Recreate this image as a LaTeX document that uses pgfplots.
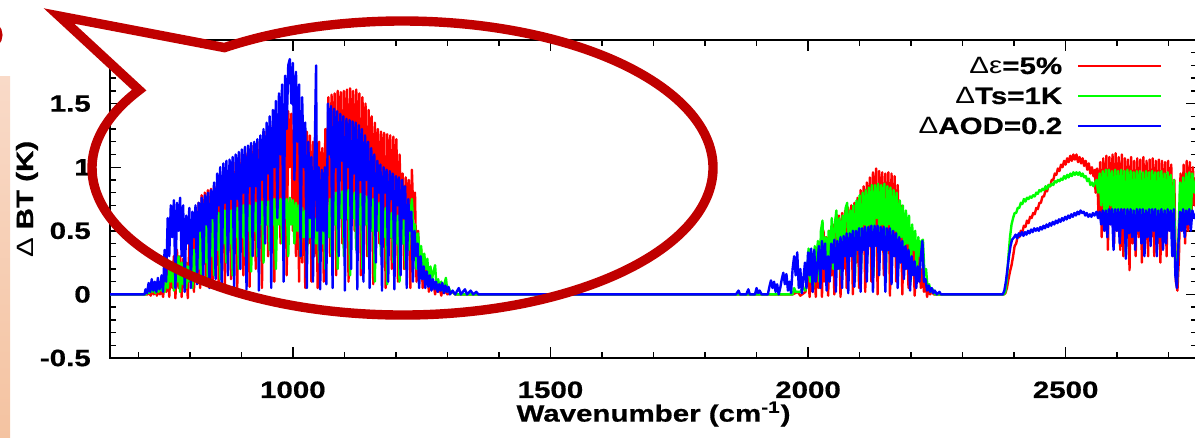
\documentclass[border=0pt]{standalone}
\usepackage{pgfplots}
\pgfplotsset{compat=1.18}
\usepackage{fontspec}
\setmainfont{Liberation Sans}[FakeStretch=1.25, BoldFeatures={FakeBold=0.6}]
\definecolor{callout}{RGB}{192,0,0}
\definecolor{peachtop}{RGB}{249,218,200}
\definecolor{peachbot}{RGB}{244,195,161}
\newcommand{\lf}{\bfseries\fontsize{11.8}{13}\selectfont}
\begin{document}
\begin{tikzpicture}
\useasboundingbox (0,0) rectangle (597.5pt,-219pt);
\clip (0,0) rectangle (597.5pt,-219pt);
\shade[top color=peachtop, bottom color=peachbot] (0pt,-38.5pt) rectangle (5pt,-219pt);
\begin{axis}[
  at={(55pt,-179pt)}, anchor=south west,
  width=543.5pt, height=159pt, scale only axis,
  xmin=645, xmax=2755, ymin=-0.5, ymax=2,
  xtick={1000,1500,2000,2500}, xticklabels={1000,1500,2000,2500},
  ytick={-0.5,0,0.5,1,1.5}, yticklabels={-0.5,0,0.5,1,1.5},
  minor xtick={700,800,900,1100,1200,1300,1400,1600,1700,1800,1900,2100,2200,2300,2400,2600,2700},
  minor ytick={-0.4,-0.3,-0.2,-0.1,0.1,0.2,0.3,0.4,0.6,0.7,0.8,0.9,1.1,1.2,1.3,1.4,1.6,1.7,1.8,1.9},
  xtick pos=both, ytick pos=both,
  tick align=inside, major tick length=5.5pt, minor tick length=3pt,
  tick style={black, line width=0.7pt},
  axis line style={black, line width=0.9pt},
  ticklabel style={font=\lf},
  xticklabel style={yshift=-8.2pt},
  yticklabel style={xshift=-6.1pt},
  xlabel={Wavenumber (cm\textsuperscript{-1})},
  xlabel style={font=\lf, at={(axis description cs:0.5,0)}, anchor=base, yshift=-31.8pt},
  ylabel={{\mdseries Δ} BT (K)},
  ylabel style={font=\lf, at={(axis description cs:-0.0708,0.5)}, anchor=base},
  legend style={at={(axis description cs:0.9687,0.951)}, anchor=north east, draw=none, fill=none, inner sep=0pt, row sep=5pt, column sep=7.5pt, font=\lf, nodes={inner sep=0pt, text height=9pt, text depth=1pt}},
  legend cell align=right,
  legend plot pos=right,
  legend image code/.code={\draw[#1] (0pt,0pt) -- (41.5pt,0pt);},
  every axis plot/.append style={line width=1.2pt, line join=round, no markers},
]
\addplot[red] coordinates {
(645,0)(718,0)(721,0.02)(724,-0.01)(727,0.04)(730,0)(733,0.05)(736,-0.01)(739,0.04)(742,0)(745,0.06)(748,-0.02)(751,0.1)(754,0.02)(757,0.2)(760,-0.02)(763,0.25)(766,0.05)(769,0.3)(772,-0.03)(775,0.35)(778,0.05)(781,0.3)(784,-0.02)(787,0.28)(790,0.05)(793,0.25)(796,-0.03)(799,0.4)(802,0.1)(805,0.5)(808,0.02)(811,0.6)(814,0.1)(817,0.72)(820,0.05)(823,0.78)(826,0.3)(829,0.8)(832,0.08)(835,0.82)(838,0.4)(841,0.83)(844,0.05)(847,0.85)(850,0.5)(853,0.88)(856,0.1)(859,0.92)(862,0.5)(865,0.95)(868,0.08)(871,0.97)(874,0.55)(877,1.0)(880,0.12)(883,1.02)(886,0.6)(889,1.04)(892,0.05)(895,1.07)(898,0.6)(901,1.1)(904,0.15)(907,1.12)(910,0.65)(913,1.15)(916,0.06)(919,1.17)(922,0.7)(925,1.19)(928,0.2)(931,1.2)(934,0.7)(937,1.22)(940,0.05)(943,1.25)(946,0.75)(949,1.28)(952,0.3)(955,1.3)(958,0.8)(961,1.33)(964,0.1)(967,1.36)(970,0.85)(973,1.38)(976,0.4)(979,1.4)(982,0.9)(985,1.42)(988,0.15)(991,1.44)(994,1.0)(997,1.42)(1000,0.5)(1003,1.4)(1006,0.3)(1009,1.38)(1012,0.1)(1015,1.3)(1018,0.25)(1021,1.35)(1024,0.05)(1027,1.28)(1030,0.4)(1033,1.25)(1036,0.1)(1039,1.2)(1042,0.3)(1045,1.25)(1048,0.05)(1051,1.2)(1054,0.35)(1057,1.15)(1060,0.1)(1063,1.3)(1066,0.8)(1069,1.55)(1072,0.3)(1075,1.57)(1078,1.0)(1081,1.58)(1084,0.15)(1087,1.6)(1090,1.1)(1093,1.59)(1096,0.4)(1099,1.6)(1102,1.1)(1105,1.61)(1108,0.1)(1111,1.62)(1114,1.1)(1117,1.6)(1120,0.5)(1123,1.61)(1126,1.0)(1129,1.58)(1132,0.15)(1135,1.55)(1138,1.0)(1141,1.5)(1144,0.3)(1147,1.45)(1150,0.95)(1153,1.4)(1156,0.08)(1159,1.35)(1162,0.9)(1165,1.3)(1168,0.4)(1171,1.28)(1174,0.85)(1177,1.27)(1180,0.05)(1183,1.26)(1186,0.8)(1189,1.25)(1192,0.2)(1195,1.24)(1198,0.8)(1201,1.22)(1204,0.1)(1207,1.1)(1210,0.7)(1213,0.95)(1216,0.2)(1219,0.92)(1222,0.6)(1225,0.9)(1228,0.05)(1231,0.98)(1234,0.6)(1237,0.8)(1240,0.1)(1243,0.5)(1246,0.2)(1249,0.35)(1252,0.05)(1255,0.25)(1258,0.1)(1261,0.2)(1264,0.02)(1267,0.15)(1270,0.05)(1273,0.1)(1276,0)(1279,0.08)(1282,0.02)(1285,0.06)(1288,-0.01)(1291,0.05)(1294,0.01)(1297,0.04)(1300,0)(1310,0.02)(1315,0)
(1970,0)(1980,0.02)(1985,-0.01)(1995,0.02)(2000,0.2)(2003,-0.02)(2006,0.25)(2009,0.02)(2012,0.3)(2015,-0.02)(2018,0.35)(2021,0.05)(2024,0.4)(2027,-0.02)(2030,0.5)(2033,0.1)(2036,0.45)(2039,-0.01)(2042,0.5)(2045,0.15)(2048,0.55)(2051,0)(2054,0.6)(2057,0.2)(2060,0.62)(2063,-0.02)(2066,0.64)(2069,0.2)(2072,0.66)(2075,0.05)(2078,0.68)(2081,0.3)(2084,0.7)(2087,0)(2090,0.72)(2093,0.25)(2096,0.76)(2099,0.05)(2102,0.82)(2105,0.4)(2108,0.85)(2111,0.02)(2114,0.88)(2117,0.4)(2120,0.92)(2123,0.1)(2126,0.96)(2129,0.45)(2132,0.99)(2135,0)(2138,0.97)(2141,0.5)(2144,0.96)(2147,0.15)(2150,0.95)(2153,0.45)(2156,0.96)(2159,-0.01)(2162,0.95)(2165,0.4)(2168,0.93)(2171,0.1)(2174,0.86)(2177,0.3)(2180,0.7)(2183,0)(2186,0.62)(2189,0.2)(2192,0.55)(2195,0.05)(2198,0.5)(2201,0.15)(2204,0.4)(2207,-0.01)(2210,0.35)(2213,0.1)(2216,0.3)(2219,0.05)(2222,0.2)(2225,0.02)(2228,0.12)(2231,-0.02)(2234,0.06)(2237,0)(2240,0.03)(2244,0)(2380,0)
(2383,0.01)(2386,0.05)(2389,0.12)(2392,0.18)(2395,0.23)(2398,0.3)(2401,0.38)(2404,0.4)(2407,0.46)(2410,0.45)(2413,0.5)(2416,0.49)(2419,0.54)(2422,0.53)(2425,0.58)(2428,0.56)(2431,0.61)(2434,0.6)(2437,0.64)(2440,0.63)(2443,0.68)(2446,0.67)(2449,0.72)(2452,0.72)(2455,0.77)(2458,0.77)(2461,0.82)(2464,0.81)(2467,0.86)(2470,0.85)(2473,0.9)(2476,0.9)(2479,0.95)(2482,0.94)(2485,0.99)(2488,0.97)(2491,1.02)(2494,1.0)(2497,1.05)(2500,1.02)(2503,1.07)(2506,1.04)(2509,1.09)(2512,1.05)(2515,1.1)(2518,1.06)(2521,1.1)(2524,1.04)(2527,1.08)(2530,1.03)(2533,1.07)(2536,1.01)(2539,1.05)(2542,0.98)(2545,1.03)(2548,0.95)(2551,1.0)(2554,0.93)(2557,0.98)(2558,0.8)(2561,0.99)(2564,0.6)(2567,1.04)(2570,0.45)(2573,1.07)(2576,0.5)(2579,1.09)(2582,0.35)(2585,1.08)(2588,0.55)(2591,1.1)(2594,0.4)(2597,1.11)(2600,0.5)(2603,1.08)(2606,0.35)(2609,1.1)(2612,0.3)(2615,1.07)(2618,0.5)(2621,1.06)(2624,0.19)(2627,1.08)(2630,0.4)(2633,1.05)(2636,0.3)(2639,1.07)(2642,0.45)(2645,1.06)(2648,0.25)(2651,1.08)(2654,0.4)(2657,1.05)(2660,0.3)(2663,1.06)(2666,0.45)(2669,1.07)(2672,0.3)(2675,1.05)(2678,0.4)(2681,1.06)(2684,0.25)(2687,1.05)(2690,0.45)(2693,1.04)(2696,0.3)(2699,1.05)(2702,0.5)(2705,1.02)(2708,0.3)(2711,0.9)(2714,0.1)(2717,0.03)(2720,0.3)(2723,0.95)(2726,0.5)(2729,1.02)(2732,0.4)(2735,1.05)(2738,0.5)(2741,1.04)(2744,0.6)(2747,1.0)(2750,0.7)(2755,1.02)
};
\addlegendentry{{\mdseries Δε}=5\%}
\addplot[green] coordinates {
(645,0)(715,0)(718,0.03)(721,0.01)(724,0.05)(727,0.02)(730,0.06)(733,0.01)(736,0.05)(739,0.02)(742,0.06)(745,0.03)(748,0.1)(751,0.02)(754,0.15)(757,0.05)(760,0.2)(763,0.1)(766,0.25)(769,0.03)(772,0.28)(775,0.1)(778,0.3)(781,0.02)(784,0.25)(787,0.08)(790,0.3)(793,0.05)(796,0.22)(799,0.1)(802,0.3)(805,0.05)(808,0.35)(811,0.12)(814,0.45)(817,0.2)(820,0.55)(823,0.08)(826,0.6)(829,0.25)(832,0.62)(835,0.1)(838,0.63)(841,0.3)(844,0.65)(847,0.15)(850,0.6)(853,0.35)(856,0.64)(859,0.12)(862,0.65)(865,0.4)(868,0.66)(871,0.25)(874,0.67)(877,0.4)(880,0.66)(883,0.15)(886,0.68)(889,0.45)(892,0.68)(895,0.2)(898,0.69)(901,0.45)(904,0.7)(907,0.3)(910,0.7)(913,0.5)(916,0.7)(919,0.18)(922,0.71)(925,0.5)(928,0.72)(931,0.3)(934,0.72)(937,0.55)(940,0.73)(943,0.25)(946,0.74)(949,0.55)(952,0.73)(955,0.35)(958,0.74)(961,0.55)(964,0.75)(967,0.2)(970,0.74)(973,0.55)(976,0.75)(979,0.4)(982,0.76)(985,0.6)(988,0.75)(991,0.3)(994,0.76)(997,0.55)(1000,0.74)(1003,0.4)(1006,0.72)(1009,0.5)(1012,0.7)(1015,0.3)(1018,0.68)(1021,0.45)(1024,0.66)(1027,0.25)(1030,0.64)(1033,0.45)(1036,0.62)(1039,0.3)(1042,0.6)(1045,0.4)(1048,0.58)(1051,0.25)(1054,0.56)(1057,0.4)(1060,0.58)(1063,0.2)(1066,0.62)(1069,0.45)(1072,0.75)(1075,0.3)(1078,0.78)(1081,0.55)(1084,0.8)(1087,0.2)(1090,0.8)(1093,0.6)(1096,0.81)(1099,0.3)(1102,0.8)(1105,0.6)(1108,0.82)(1111,0.15)(1114,0.81)(1117,0.6)(1120,0.8)(1123,0.35)(1126,0.8)(1129,0.55)(1132,0.79)(1135,0.2)(1138,0.78)(1141,0.55)(1144,0.77)(1147,0.3)(1150,0.76)(1153,0.5)(1156,0.75)(1159,0.1)(1162,0.73)(1165,0.5)(1168,0.72)(1171,0.3)(1174,0.7)(1177,0.45)(1180,0.68)(1183,0.08)(1186,0.66)(1189,0.45)(1192,0.64)(1195,0.25)(1198,0.63)(1201,0.4)(1204,0.62)(1207,0.1)(1210,0.6)(1213,0.4)(1216,0.58)(1219,0.2)(1222,0.56)(1225,0.35)(1228,0.6)(1231,0.75)(1234,0.5)(1237,0.55)(1240,0.2)(1243,0.48)(1246,0.3)(1249,0.38)(1252,0.15)(1255,0.32)(1258,0.2)(1261,0.28)(1264,0.08)(1267,0.22)(1270,0.12)(1273,0.18)(1276,0.23)(1279,0.05)(1282,0.12)(1285,0.04)(1288,0.1)(1291,0.03)(1294,0.08)(1297,0.13)(1300,0.02)(1303,0.05)(1306,0.01)(1310,0.02)(1315,0)
(1970,0)(1973,0.05)(1976,0.02)(1985,0.02)(1990,0.05)(1995,0.03)(1998,0.15)(2001,0.36)(2004,0.1)(2007,0.3)(2010,0.05)(2013,0.38)(2016,0.2)(2019,0.42)(2022,0.1)(2025,0.5)(2028,0.58)(2031,0.25)(2034,0.45)(2037,0.1)(2040,0.5)(2043,0.3)(2046,0.6)(2049,0.2)(2052,0.55)(2055,0.66)(2058,0.35)(2061,0.6)(2064,0.15)(2067,0.62)(2070,0.4)(2073,0.68)(2076,0.72)(2079,0.3)(2082,0.66)(2085,0.45)(2088,0.7)(2091,0.1)(2094,0.74)(2097,0.5)(2100,0.78)(2103,0.2)(2106,0.8)(2109,0.55)(2112,0.82)(2115,0.3)(2118,0.84)(2121,0.55)(2124,0.86)(2127,0.15)(2130,0.86)(2133,0.6)(2136,0.87)(2139,0.35)(2142,0.86)(2145,0.55)(2148,0.87)(2151,0.1)(2154,0.85)(2157,0.55)(2160,0.84)(2163,0.3)(2166,0.82)(2169,0.5)(2172,0.8)(2175,0.2)(2178,0.74)(2181,0.45)(2184,0.7)(2187,0.25)(2190,0.66)(2193,0.4)(2196,0.62)(2199,0.1)(2202,0.55)(2205,0.35)(2208,0.5)(2211,0.15)(2214,0.45)(2217,0.3)(2220,0.42)(2223,0.43)(2226,0.15)(2229,0.2)(2232,0.05)(2235,0.08)(2238,0.02)(2242,0.04)(2246,0)(2380,0)
(2383,0.02)(2386,0.12)(2389,0.3)(2392,0.45)(2395,0.55)(2398,0.6)(2401,0.64)(2404,0.64)(2407,0.68)(2410,0.68)(2413,0.72)(2416,0.71)(2419,0.75)(2422,0.73)(2425,0.76)(2428,0.75)(2431,0.77)(2434,0.76)(2437,0.78)(2440,0.77)(2443,0.8)(2446,0.79)(2449,0.82)(2452,0.81)(2455,0.83)(2458,0.82)(2461,0.85)(2464,0.83)(2467,0.86)(2470,0.85)(2473,0.87)(2476,0.86)(2479,0.89)(2482,0.88)(2485,0.9)(2488,0.89)(2491,0.91)(2494,0.9)(2497,0.93)(2500,0.91)(2503,0.94)(2506,0.92)(2509,0.95)(2512,0.93)(2515,0.96)(2518,0.94)(2521,0.96)(2524,0.94)(2527,0.96)(2530,0.93)(2533,0.95)(2536,0.92)(2539,0.93)(2542,0.89)(2545,0.91)(2548,0.86)(2551,0.88)(2554,0.85)(2557,0.88)(2560,0.9)(2563,0.8)(2566,0.95)(2569,0.7)(2572,0.97)(2575,0.65)(2578,0.98)(2581,0.6)(2584,0.98)(2587,0.7)(2590,0.97)(2593,0.45)(2596,0.98)(2599,0.65)(2602,0.97)(2605,0.5)(2608,0.98)(2611,0.68)(2614,0.97)(2617,0.3)(2620,0.98)(2623,0.65)(2626,0.97)(2629,0.55)(2632,0.96)(2635,0.45)(2638,0.97)(2641,0.66)(2644,0.97)(2647,0.5)(2650,0.96)(2653,0.4)(2656,0.97)(2659,0.6)(2662,0.96)(2665,0.5)(2668,0.97)(2671,0.65)(2674,0.96)(2677,0.4)(2680,0.96)(2683,0.6)(2686,0.97)(2689,0.45)(2692,0.95)(2695,0.55)(2698,0.96)(2701,0.65)(2704,0.94)(2707,0.4)(2710,0.9)(2713,0.2)(2716,0.07)(2719,0.45)(2722,0.88)(2725,0.6)(2728,0.92)(2731,0.55)(2734,0.95)(2737,0.65)(2740,0.96)(2743,0.6)(2746,0.95)(2750,0.8)(2755,0.95)
};
\addlegendentry{{\mdseries Δ}Ts=1K}
\addplot[blue] coordinates {
(645,0)(712,0)(714,0.04)(717,0.01)(720,0.09)(723,0.02)(726,0.12)(729,0.03)(732,0.1)(735,0.02)(738,0.13)(741,0.04)(744,0.08)(745,0.15)(748,0.02)(751,0.35)(754,0.1)(757,0.6)(760,0.3)(763,0.7)(766,0.45)(769,0.74)(772,0.05)(775,0.72)(778,0.5)(781,0.76)(784,0.3)(787,0.7)(790,0.02)(793,0.62)(796,0.4)(799,0.68)(802,0.05)(805,0.65)(808,0.45)(811,0.7)(814,0.08)(817,0.72)(820,0.5)(823,0.76)(826,0.1)(829,0.78)(832,0.55)(835,0.8)(838,0.05)(841,0.82)(844,0.6)(847,0.88)(850,0.12)(853,0.95)(856,0.7)(859,1.0)(862,0.03)(865,1.03)(868,0.72)(871,1.05)(874,0.15)(877,1.06)(880,0.75)(883,1.08)(886,0.05)(889,1.1)(892,0.75)(895,1.12)(898,0.2)(901,1.14)(904,0.8)(907,1.16)(910,0.04)(913,1.17)(916,0.85)(919,1.19)(922,0.3)(925,1.2)(928,0.85)(931,1.22)(934,0.03)(937,1.25)(940,0.9)(943,1.3)(946,0.4)(949,1.35)(952,0.95)(955,1.4)(958,0.05)(961,1.45)(964,1.0)(967,1.52)(970,0.6)(973,1.58)(976,1.1)(979,1.65)(982,0.1)(985,1.72)(988,1.3)(991,1.8)(994,1.85)(997,1.5)(1000,1.82)(1003,0.9)(1006,1.75)(1009,1.2)(1012,1.65)(1015,0.3)(1018,1.55)(1021,1.0)(1024,1.35)(1027,0.05)(1030,1.2)(1033,0.6)(1036,1.08)(1039,0.1)(1042,1.02)(1045,1.8)(1047,0.5)(1050,1.0)(1053,0.04)(1056,0.98)(1059,0.5)(1062,1.0)(1065,0.08)(1068,1.5)(1071,1.1)(1074,1.48)(1077,0.05)(1080,1.46)(1083,1.0)(1086,1.44)(1089,0.3)(1092,1.42)(1095,1.05)(1098,1.4)(1101,0.03)(1104,1.38)(1107,1.0)(1110,1.37)(1113,0.2)(1116,1.36)(1119,0.95)(1122,1.35)(1125,0.04)(1128,1.33)(1131,0.9)(1134,1.3)(1137,0.1)(1140,1.25)(1143,0.9)(1146,1.2)(1149,0.05)(1152,1.15)(1155,0.85)(1158,1.1)(1161,0.25)(1164,1.05)(1167,0.8)(1170,1.02)(1173,0.03)(1176,1.0)(1179,0.8)(1182,0.98)(1185,0.1)(1188,0.97)(1191,0.75)(1194,0.95)(1197,0.04)(1200,0.93)(1203,0.7)(1206,0.92)(1209,0.15)(1212,0.9)(1215,0.6)(1218,0.85)(1221,0.05)(1224,0.75)(1227,0.5)(1230,0.65)(1233,0.1)(1236,0.5)(1239,0.3)(1242,0.4)(1245,0.05)(1248,0.3)(1251,0.12)(1254,0.22)(1257,0.05)(1260,0.18)(1263,0.06)(1266,0.15)(1269,0.03)(1272,0.12)(1275,0.04)(1278,0.1)(1281,0.02)(1284,0.08)(1287,0.03)(1290,0.09)(1293,0.01)(1296,0.07)(1299,0.02)(1302,0.06)(1305,0)(1310,0.03)(1315,0)(1322,0.05)(1326,0)(1334,0.04)(1338,0)(1345,0.03)(1350,0)(1356,0.02)(1360,0)
(1860,0)(1865,0.03)(1868,0)(1880,0)(1884,0.04)(1887,0)(1897,0)(1900,0.05)(1903,0.01)(1906,0.03)(1910,0)(1922,0)(1925,0.06)(1928,0.11)(1931,0.05)(1934,0.1)(1937,0.02)(1940,0.08)(1943,0)(1946,0.05)(1949,0.12)(1952,0.17)(1955,0.08)(1958,0.16)(1961,0.03)(1964,0.1)(1967,0.01)(1970,0.2)(1973,0.3)(1976,0.15)(1979,0.33)(1982,0.05)(1985,0.2)(1988,0.01)(1991,0.12)(1994,0.25)(1997,0.05)(2000,0.33)(2003,0.15)(2006,0.36)(2009,0.02)(2012,0.35)(2015,0.1)(2018,0.22)(2021,0.38)(2024,0.05)(2027,0.42)(2030,0.2)(2033,0.4)(2036,0.03)(2039,0.3)(2042,0.1)(2045,0.4)(2048,0.25)(2051,0.43)(2054,0.02)(2057,0.42)(2060,0.2)(2063,0.45)(2066,0.05)(2069,0.46)(2072,0.3)(2075,0.48)(2078,0.01)(2081,0.48)(2084,0.3)(2087,0.5)(2090,0.06)(2093,0.5)(2096,0.35)(2099,0.52)(2102,0.02)(2105,0.52)(2108,0.35)(2111,0.53)(2114,0.1)(2117,0.53)(2120,0.38)(2123,0.54)(2126,0.02)(2129,0.54)(2132,0.38)(2135,0.54)(2138,0.15)(2141,0.53)(2144,0.35)(2147,0.53)(2150,0.02)(2153,0.52)(2156,0.35)(2159,0.52)(2162,0.08)(2165,0.5)(2168,0.3)(2171,0.48)(2174,0.05)(2177,0.45)(2180,0.25)(2183,0.42)(2186,0.12)(2189,0.38)(2192,0.2)(2195,0.35)(2198,0.03)(2201,0.3)(2204,0.15)(2207,0.26)(2210,0.05)(2213,0.22)(2216,0.1)(2219,0.3)(2222,0.42)(2225,0.1)(2228,0.12)(2231,0.03)(2234,0.07)(2237,0.02)(2240,0.05)(2243,0.01)(2246,0.03)(2250,0)(2255,0.02)(2258,0)(2378,0)
(2381,0.03)(2384,0.1)(2387,0.2)(2390,0.3)(2393,0.38)(2396,0.43)(2400,0.45)(2403,0.47)(2406,0.44)(2409,0.48)(2412,0.46)(2415,0.49)(2418,0.46)(2421,0.49)(2424,0.47)(2427,0.5)(2430,0.48)(2433,0.51)(2436,0.49)(2439,0.52)(2442,0.5)(2445,0.52)(2448,0.5)(2451,0.53)(2454,0.51)(2457,0.54)(2460,0.52)(2463,0.55)(2466,0.53)(2469,0.56)(2472,0.54)(2475,0.57)(2478,0.55)(2481,0.58)(2484,0.56)(2487,0.59)(2490,0.57)(2493,0.6)(2496,0.58)(2499,0.61)(2502,0.59)(2505,0.62)(2508,0.6)(2511,0.63)(2514,0.61)(2517,0.64)(2520,0.62)(2523,0.65)(2526,0.63)(2529,0.66)(2532,0.64)(2535,0.65)(2538,0.62)(2541,0.64)(2544,0.61)(2547,0.63)(2550,0.61)(2553,0.64)(2556,0.62)(2560,0.65)(2563,0.6)(2566,0.65)(2569,0.55)(2572,0.66)(2575,0.5)(2578,0.66)(2581,0.45)(2584,0.67)(2587,0.55)(2590,0.67)(2593,0.35)(2596,0.67)(2599,0.5)(2602,0.67)(2605,0.4)(2608,0.67)(2611,0.52)(2614,0.67)(2617,0.28)(2620,0.67)(2623,0.48)(2626,0.67)(2629,0.45)(2632,0.66)(2635,0.35)(2638,0.67)(2641,0.5)(2644,0.67)(2647,0.4)(2650,0.67)(2653,0.3)(2656,0.66)(2659,0.45)(2662,0.67)(2665,0.38)(2668,0.67)(2671,0.5)(2674,0.67)(2677,0.3)(2680,0.66)(2683,0.45)(2686,0.67)(2689,0.35)(2692,0.66)(2695,0.4)(2698,0.67)(2701,0.5)(2704,0.66)(2707,0.3)(2710,0.67)(2713,0.15)(2716,0.05)(2719,0.4)(2722,0.65)(2725,0.5)(2728,0.67)(2731,0.45)(2734,0.66)(2737,0.55)(2740,0.67)(2743,0.5)(2746,0.66)(2750,0.6)(2755,0.65)
};
\addlegendentry{{\mdseries Δ}AOD=0.2}
\end{axis}
% callout annotation
\fill[white] (29.5pt,-8pt) -- (69.6pt,-45.05pt) arc[start angle=148, end angle=125, x radius=155.25pt, y radius=73.5pt] -- cycle;
\draw[callout, line width=4.7pt, line join=miter, miter limit=10] (112.2pt,-23.8pt) arc[start angle=125, end angle=-212, x radius=155.25pt, y radius=73.5pt] -- (29.5pt,-8pt) -- cycle;
\draw[callout, line width=4.5pt] (-6pt,-17.5pt) circle (5pt);
\end{tikzpicture}
\end{document}
